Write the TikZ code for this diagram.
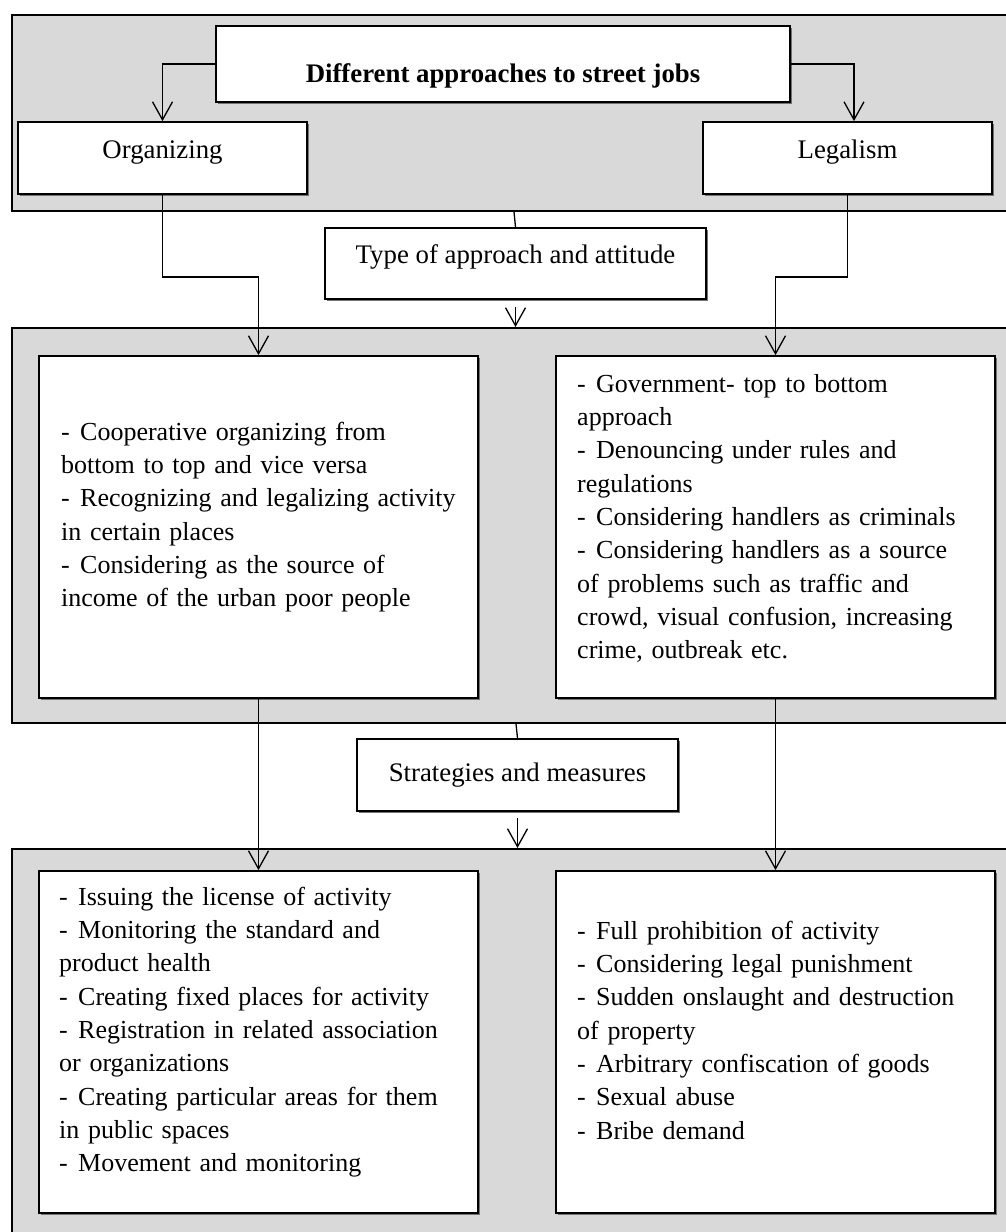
\documentclass[tikz,border=0pt]{standalone}
\usepackage{fontspec}
\setmainfont{Liberation Serif}
\usetikzlibrary{arrows.meta,shadows}
\definecolor{panelgray}{RGB}{217,217,217}
\newcommand\fs{\fontsize{26}{33.3}\selectfont}
\newcommand\fl{\fontsize{26.8}{32}\selectfont}
\newcommand\dd{\makebox[19pt][l]{-}}
\begin{document}
\begin{tikzpicture}[x=1pt,y=-1pt,
  panel/.style={draw=black, line width=1.8pt, fill=panelgray, inner sep=0pt, anchor=north west},
  box/.style={draw=black, line width=1.8pt, fill=white, inner sep=0pt,
    drop shadow={shadow xshift=1.6pt, shadow yshift=-1.6pt, fill=black!55, opacity=1}},
  txt/.style={inner sep=0pt, font=\fl},
  para/.style={inner sep=0pt, font=\fs, anchor=north west, text width=430pt, align=left},
  conn/.style={line width=1.3pt},
  arr/.style={conn, -{Straight Barb[length=18pt,width=20pt]}}
]
\path[use as bounding box] (0,0) rectangle (1006,1232);
\clip (0,0) rectangle (1006,1232);

% panels
\node[panel, minimum width=1020pt, minimum height=196pt] (p1) at (11,14) {};
\node[panel, minimum width=1020pt, minimum height=395pt] (p2) at (11,327) {};
\node[panel, minimum width=1020pt, minimum height=420pt] (p3) at (11,848) {};

% boxes
\node[box, minimum width=574pt, minimum height=76pt] (title) at (503,64) {};
\node[box, minimum width=289pt, minimum height=72pt] (org) at (162.5,158) {};
\node[box, minimum width=289pt, minimum height=72pt] (leg) at (847.5,158) {};
\node[box, minimum width=381pt, minimum height=71pt] (type) at (515.5,263.5) {};
\node[box, minimum width=439pt, minimum height=342pt] (A) at (258.5,527) {};
\node[box, minimum width=439pt, minimum height=342pt] (B) at (775.5,527) {};
\node[box, minimum width=321pt, minimum height=72pt] (strat) at (517.5,775) {};
\node[box, minimum width=439pt, minimum height=342pt] (C) at (258.5,1042) {};
\node[box, minimum width=439pt, minimum height=342pt] (D) at (775.5,1042) {};

% connectors
\draw[arr] (title.west) -| (org.north);
\draw[arr] (title.east) -| ([xshift=6.5pt]leg.north);
\draw[arr] (org.south) -- ++(0,82) -| (A.north);
\draw[arr] (leg.south) -- ++(0,82) -| (B.north);
\draw[conn] ([xshift=-1.5pt]type.north |- p1.south) -- (type.north);
\draw[arr, shorten <=7pt] (type.south) -- (type.south |- p2.north);
\draw[arr] (A.south) -- (C.north);
\draw[arr] (B.south) -- (D.north);
\draw[conn] ([xshift=-1.5pt]strat.north |- p2.south) -- (strat.north);
\draw[arr, shorten <=6pt] (strat.south) -- (strat.south |- p3.north);

% texts
\node[txt, font=\fl\bfseries, anchor=base] (tt) at (503,82) {Different approaches to street jobs};
\node[txt, anchor=base] (ot) at (162.5,158) {Organizing};
\node[txt, anchor=base] (lt) at (847.5,158) {Legalism};
\node[txt, anchor=base] (tyt) at (515.5,263) {Type of approach and attitude};
\node[txt, anchor=base] (st) at (517.5,781) {Strategies and measures};

\node[para] (At) at (61,416.7) {\strut\dd Cooperative organizing from\\
bottom to top and vice versa\\
\dd Recognizing and legalizing activity\\
in certain places\\
\dd Considering as the source of\\
income of the urban poor people};

\node[para] (Bt) at (577,368.7) {\strut\dd Government- top to bottom\\
approach\\
\dd Denouncing under rules and\\
regulations\\
\dd Considering handlers as criminals\\
\dd Considering handlers as a source\\
of problems such as traffic and\\
crowd, visual confusion, increasing\\
crime, outbreak etc.};

\node[para] (Ct) at (59,881.7) {\strut\dd Issuing the license of activity\\
\dd Monitoring the standard and\\
product health\\
\dd Creating fixed places for activity\\
\dd Registration in related association\\
or organizations\\
\dd Creating particular areas for them\\
in public spaces\\
\dd Movement and monitoring};

\node[para] (Dt) at (577,915.7) {\strut\dd Full prohibition of activity\\
\dd Considering legal punishment\\
\dd Sudden onslaught and destruction\\
of property\\
\dd Arbitrary confiscation of goods\\
\dd Sexual abuse\\
\dd Bribe demand};
\end{tikzpicture}
\end{document}
